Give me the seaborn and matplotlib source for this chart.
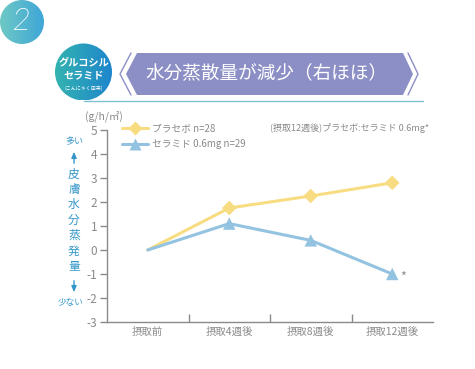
import seaborn as sns
import matplotlib.pyplot as plt
import matplotlib.patches as mpatches
from matplotlib.lines import Line2D
from matplotlib.colors import LinearSegmentedColormap
import numpy as np
import pandas as pd

# data
categories = ["摂取前", "摂取4週後", "摂取8週後", "摂取12週後"]
placebo = [0, 1.75, 2.25, 2.8]
ceramide = [0, 1.1, 0.4, -1.0]
series_names = ["プラセボ n=28", "セラミド 0.6mg n=29"]
y_ticks = [5, 4, 3, 2, 1, 0, -1, -2, -3]

YELLOW = "#F8DC82"
BLUE = "#93C3E1"
GREY = "#8a8a8a"
TEAL = "#3597C9"
PURPLE = "#8C8FC6"

sns.set_style("white")
plt.rcParams["font.family"] = ["Noto Sans CJK JP", "DejaVu Sans"]

W, H = 475, 369
fig = plt.figure(figsize=(W / 100, H / 100), dpi=100)

# background overlay in pixel coords
bg = fig.add_axes([0, 0, 1, 1])
bg.set_xlim(0, W)
bg.set_ylim(H, 0)
bg.axis("off")

grad = np.linspace(0, 1, 200).reshape(1, -1)

# circle "2"
cmap1 = LinearSegmentedColormap.from_list("c1", ["#6EC9C4", "#3FA6D8"])
im = bg.imshow(grad, cmap=cmap1, extent=[0, 44, 44, 0], zorder=1)
im.set_clip_path(mpatches.Circle((22, 22), 22, transform=bg.transData))
bg.text(21, 22, "2", color="white", fontsize=23, ha="center", va="center",
        family="Roboto", fontweight="light", fontstyle="italic", zorder=2)

# glucosyl ceramide circle
cmap2 = LinearSegmentedColormap.from_list("c2", ["#33B3B0", "#1E86CC"])
im2 = bg.imshow(grad, cmap=cmap2, extent=[55, 112, 100, 43], zorder=1)
im2.set_clip_path(mpatches.Circle((83.5, 72), 28.5, transform=bg.transData))
bg.text(83.5, 63, "グルコシル", color="white", fontsize=7.3, fontweight="bold",
        ha="center", va="center", zorder=3)
bg.text(83.5, 75, "セラミド", color="white", fontsize=7.3, fontweight="bold",
        ha="center", va="center", zorder=3)
bg.text(83.5, 88, "(こんにゃく由来)", color="white", fontsize=3.6,
        ha="center", va="center", zorder=3)

# title banner
banner = mpatches.Polygon([[137, 53], [403, 53], [413, 74], [403, 95], [137, 95], [126, 74]],
                          closed=True, facecolor=PURPLE, edgecolor="none", zorder=1)
bg.add_patch(banner)
bg.plot([131, 120, 131], [53, 74, 95], color=PURPLE, lw=1.0, zorder=1)
bg.plot([408, 418, 408], [53, 74, 95], color=PURPLE, lw=1.0, zorder=1)
bg.text(266, 74, "水分蒸散量が減少（右ほほ）", color="white", fontsize=13.4,
        ha="center", va="center", zorder=2)
bg.plot([84, 423], [101, 101], color="#7CC3CF", lw=1.0, zorder=0)

# y label decorations
bg.text(74, 142, "多い", color=TEAL, fontsize=6.5, ha="center", va="center")
bg.annotate("", xy=(74, 149), xytext=(74, 166),
            arrowprops=dict(arrowstyle="-|>,head_width=0.15,head_length=0.35", color=TEAL, lw=1.0))
for i, ch in enumerate("皮膚水分蒸発量"):
    bg.text(74, 174 + i * 15.4, ch, color=TEAL, fontsize=8.5, ha="center", va="center")
bg.annotate("", xy=(74, 295), xytext=(74, 278),
            arrowprops=dict(arrowstyle="-|>,head_width=0.15,head_length=0.35", color=TEAL, lw=1.0))
bg.text(71, 303, "少ない", color=TEAL, fontsize=6.2, ha="center", va="center")

bg.text(85, 116, "(g/h/㎡)", color=GREY, fontsize=7.5, ha="left", va="center")
bg.text(270, 128, "(摂取12週後)プラセボ:セラミド 0.6mg*", color=GREY, fontsize=6.5,
        ha="left", va="center")

# main chart
ax = fig.add_axes([107 / W, (H - 322) / H, (433 - 107) / W, (322 - 130) / H])
ax.patch.set_alpha(0)
df = pd.DataFrame({
    "x": list(range(len(categories))) * 2,
    "value": placebo + ceramide,
    "group": [series_names[0]] * len(placebo) + [series_names[1]] * len(ceramide),
})
sns.lineplot(data=df, x="x", y="value", hue="group",
             palette={series_names[0]: YELLOW, series_names[1]: BLUE},
             lw=2.2, ax=ax, legend=False)
sns.scatterplot(x=np.arange(1, 4), y=placebo[1:], marker="D", s=55, color=YELLOW,
                edgecolor="none", ax=ax, zorder=3)
sns.scatterplot(x=np.arange(1, 4), y=ceramide[1:], marker="^", s=80, color=BLUE,
                edgecolor="none", ax=ax, zorder=3)
ax.text(3.13, ceramide[3] - 0.15, "*", color=GREY, fontsize=9, ha="center", va="center")

ax.set_xlim(-0.5, 3.5)
ax.set_ylim(-3, 5)
ax.set_yticks(y_ticks)
ax.set_yticklabels([str(v) for v in y_ticks])
ax.set_xticks([0.5, 1.5, 2.5])
ax.set_xticklabels([])
for i, c in enumerate(categories):
    ax.text(i, -3.4, c, color=GREY, fontsize=7.5, ha="center", va="center")
ax.set_xlabel("")
ax.set_ylabel("")
for s in ["top", "right"]:
    ax.spines[s].set_visible(False)
for s in ["left", "bottom"]:
    ax.spines[s].set_color(GREY)
    ax.spines[s].set_linewidth(1.0)
ax.tick_params(axis="y", direction="out", length=5, width=1, color=GREY, labelcolor=GREY,
               labelsize=8.5, pad=2, left=True)
ax.tick_params(axis="x", direction="in", length=6, width=1, color=GREY, bottom=True)

handles = [
    Line2D([], [], color=YELLOW, lw=2.2, marker="D", markersize=7, markeredgecolor="none"),
    Line2D([], [], color=BLUE, lw=2.2, marker="^", markersize=9, markeredgecolor="none"),
]
ax.legend(handles, series_names, loc="upper left", bbox_to_anchor=(0.02, 1.08),
          frameon=False, fontsize=7, labelcolor=GREY, handlelength=2.6,
          handletextpad=0.5, labelspacing=0.6)

fig.savefig("out.png", dpi=100)
